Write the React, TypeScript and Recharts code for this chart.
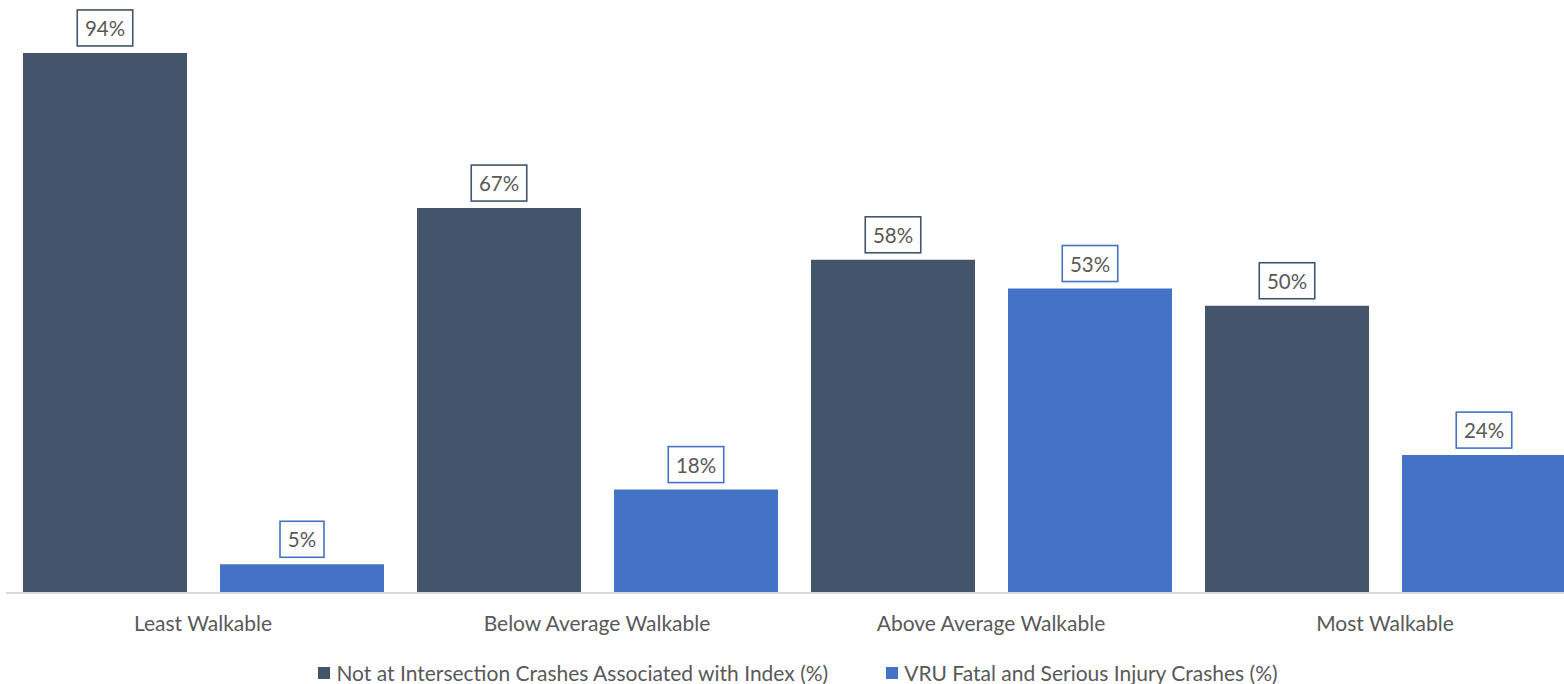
import { BarChart, Bar, XAxis, YAxis, Legend, LabelList } from 'recharts';

const categories = ['Least Walkable', 'Below Average Walkable', 'Above Average Walkable', 'Most Walkable'];
const notAtIntersection = [94, 67, 58, 50];
const vruFatalSerious = [5, 18, 53, 24];
const seriesNames = ['Not at Intersection Crashes Associated with Index (%)', 'VRU Fatal and Serious Injury Crashes (%)'];

const DARK = '#44546A';
const BLUE = '#4472C4';
const TEXT = '#595959';
const FONT = 'Lato, "Open Sans", sans-serif';

const data = categories.map((name, i) => ({
  name,
  a: notAtIntersection[i],
  b: vruFatalSerious[i],
}));

const boxLabel = (color: string) => (props: any) => {
  const { x, y, width, value } = props;
  const text = `${value}%`;
  const w = 21 + 11.5 * text.length;
  const h = 36;
  const cx = x + width / 2;
  const bottom = y - 7;
  return (
    <g>
      <rect x={cx - w / 2} y={bottom - h} width={w} height={h} fill="#fff" stroke={color} strokeWidth={1.6} />
      <text x={cx} y={bottom - h / 2} textAnchor="middle" dominantBaseline="central" fill={TEXT} fontSize={20.5} fontFamily={FONT}>
        {text}
      </text>
    </g>
  );
};

const legendContent = () => (
  <div style={{ height: 41, display: 'flex', alignItems: 'flex-end', justifyContent: 'center', paddingLeft: 8, fontFamily: FONT, fontSize: 21, color: TEXT }}>
    {[DARK, BLUE].map((c, i) => (
      <div key={i} style={{ display: 'flex', alignItems: 'center', marginRight: i === 0 ? 58 : 0, lineHeight: '22px' }}>
        <span style={{ display: 'inline-block', width: 12, height: 12, background: c, marginRight: 6 }} />
        <span>{seriesNames[i]}</span>
      </div>
    ))}
  </div>
);

export default function App() {
  return (
    <div style={{ position: 'absolute', left: 0, top: 0, width: 1564, height: 684, overflow: 'hidden', background: '#fff' }}>
      <BarChart
        width={1582}
        height={684}
        data={data}
        margin={{ top: 18.5, right: 0, left: 6, bottom: 0 }}
        barSize={164}
        barGap={33}
      >
        <XAxis
          dataKey="name"
          axisLine={{ stroke: '#D9D9D9', strokeWidth: 2 }}
          tickLine={false}
          tickMargin={17}
          height={50}
          tick={{ fill: TEXT, fontSize: 21, fontFamily: FONT }}
          interval={0}
        />
        <YAxis hide domain={[0, 100]} />
        <Legend verticalAlign="bottom" content={legendContent} />
        <Bar dataKey="a" name={seriesNames[0]} fill={DARK} isAnimationActive={false}>
          <LabelList dataKey="a" content={boxLabel(DARK)} />
        </Bar>
        <Bar dataKey="b" name={seriesNames[1]} fill={BLUE} isAnimationActive={false}>
          <LabelList dataKey="b" content={boxLabel(BLUE)} />
        </Bar>
      </BarChart>
    </div>
  );
}
